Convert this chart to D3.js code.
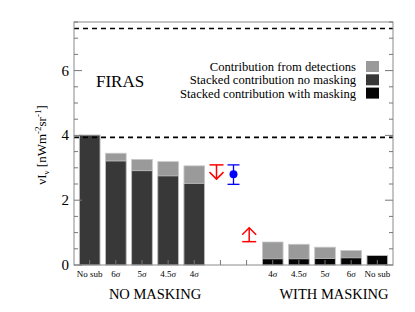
<!DOCTYPE html>
<html>
<head>
<meta charset="utf-8">
<script src="https://cdn.jsdelivr.net/npm/d3@7"></script>
</head>
<body style="margin:0">
<script>
// slot 1..5 = no masking, 8..12 = with masking
const labelsNoMask = ['No sub', '6', '5', '4.5', '4'];
const noMaskTotal = [4.01, 3.45, 3.26, 3.19, 3.06];
const noMaskStack = [4.01, 3.21, 2.91, 2.75, 2.52];

const labelsMask = ['4', '4.5', '5', '6', 'No sub'];
const maskTotal = [0.71, 0.64, 0.55, 0.45, 0.29];
const maskStack = [0.19, 0.19, 0.20, 0.22, 0.29];

const dashedLevels = [7.3, 3.94];
const firas = {x: 6.5, y: 2.8, lo: 2.49, hi: 3.09};
const upperLimit = {x: 5.85, y: 3.09, tip: 2.65};
const lowerLimit = {x: 7.1, y: 0.72, tip: 1.15};

const width = 415;
const height = 312;
const margin = {left: 74, right: 22, top: 22, bottom: 47};
const fontFam = '"Liberation Serif", "Times New Roman", monospace';

// touch the serif font once so it is loaded before the svg text is laid out
const ctx = document.createElement('canvas').getContext('2d');
[9, 12.6, 13, 14.5, 15, 17].forEach((s) => {
    ctx.font = `${s}px ${fontFam}`;
    ctx.measureText('Stacked contribution');
    ctx.font = `italic ${s}px ${fontFam}`;
    ctx.measureText('σν');
});

const svg = d3.select('body').append('svg')
    .attr('width', width)
    .attr('height', height);

const x = d3.scaleLinear()
    .domain([0.4, 12.6])
    .range([margin.left, width - margin.right]);
const y = d3.scaleLinear()
    .domain([0, 7.5])
    .range([height - margin.bottom, margin.top]);

const barW = x(0.79) - x(0);
const lightGrey = '#9a9a9a';
const darkGrey = '#383838';
const black = '#050505';

function addText(parent) {
    return parent.append('text').attr('font-family', fontFam);
}

function drawBars(group, slots, totals, stacks, stackColor) {
    group.selectAll(null)
        .data(totals)
        .enter()
        .append('rect')
        .attr('x', (d, i) => x(slots[i]) - barW / 2)
        .attr('width', barW)
        .attr('y', (d) => y(d))
        .attr('height', (d) => y(0) - y(d))
        .attr('fill', lightGrey)
        .attr('stroke', '#c8c8c8')
        .attr('stroke-width', 0.8);
    group.selectAll(null)
        .data(stacks)
        .enter()
        .append('rect')
        .attr('x', (d, i) => x(slots[i]) - barW / 2)
        .attr('width', barW)
        .attr('y', (d) => y(d))
        .attr('height', (d) => y(0) - y(d))
        .attr('fill', stackColor)
        .attr('stroke', '#c8c8c8')
        .attr('stroke-width', 0.8);
}

const bars = svg.append('g');
drawBars(bars, [1, 2, 3, 4, 5], noMaskTotal, noMaskStack, darkGrey);
drawBars(bars, [8, 9, 10, 11, 12], maskTotal, maskStack, black);

// dashed lines
svg.append('g').selectAll('line')
    .data(dashedLevels)
    .enter()
    .append('line')
    .attr('x1', x(0.4))
    .attr('x2', x(12.6))
    .attr('y1', (d) => y(d))
    .attr('y2', (d) => y(d))
    .attr('stroke', '#000')
    .attr('stroke-width', 1.6)
    .attr('stroke-dasharray', '5,4');

// frame
svg.append('rect')
    .attr('x', x(0.4))
    .attr('y', y(7.5))
    .attr('width', x(12.6) - x(0.4))
    .attr('height', y(0) - y(7.5))
    .attr('fill', 'none')
    .attr('stroke', '#8a8a8a')
    .attr('stroke-width', 1);

// y ticks (inside, both sides)
const majorTicks = d3.range(0, 7.5, 2);
const minorTicks = d3.range(0, 7.51, 0.5).filter((d) => d % 2 !== 0);
const ticks = svg.append('g').attr('stroke', '#777').attr('stroke-width', 1);
[[x(0.4), 1], [x(12.6), -1]].forEach(([x0, dir]) => {
    ticks.selectAll(null).data(majorTicks).enter().append('line')
        .attr('x1', x0).attr('x2', x0 + dir * 8)
        .attr('y1', (d) => y(d)).attr('y2', (d) => y(d));
    ticks.selectAll(null).data(minorTicks).enter().append('line')
        .attr('x1', x0).attr('x2', x0 + dir * 4)
        .attr('y1', (d) => y(d)).attr('y2', (d) => y(d));
});
// x ticks
ticks.selectAll(null).data(d3.range(1, 13)).enter().append('line')
    .attr('x1', (d) => x(d)).attr('x2', (d) => x(d))
    .attr('y1', y(0)).attr('y2', y(0) - 5);

svg.append('g').selectAll('text')
    .data(majorTicks)
    .enter()
    .append('text')
    .attr('font-family', fontFam)
    .attr('x', x(0.4) - 5)
    .attr('y', (d) => y(d) + 5)
    .attr('text-anchor', 'end')
    .attr('font-size', 15)
    .text((d) => d);

// category labels
function catLabels(labels, slots) {
    const t = svg.append('g').selectAll('text')
        .data(labels)
        .enter()
        .append('text')
        .attr('font-family', fontFam)
        .attr('x', (d, i) => x(slots[i]))
        .attr('y', y(0) + 12)
        .attr('text-anchor', 'middle')
        .attr('font-size', 9);
    t.each(function (d) {
        const el = d3.select(this);
        if (d === 'No sub') {
            el.text(d);
        } else {
            el.append('tspan').text(d);
            el.append('tspan').attr('font-style', 'italic').text('σ');
        }
    });
}
catLabels(labelsNoMask, [1, 2, 3, 4, 5]);
catLabels(labelsMask, [8, 9, 10, 11, 12]);

addText(svg)
    .attr('x', 155).attr('y', 299)
    .attr('text-anchor', 'middle').attr('font-size', 14.5)
    .text('NO MASKING');
addText(svg)
    .attr('x', 334).attr('y', 299)
    .attr('text-anchor', 'middle').attr('font-size', 14.5)
    .text('WITH MASKING');

addText(svg)
    .attr('x', 96).attr('y', 87)
    .attr('font-size', 17)
    .text('FIRAS');

// y title
const yTitle = addText(svg)
    .attr('transform', 'translate(46,145) rotate(-90)')
    .attr('text-anchor', 'middle')
    .attr('font-size', 13);
yTitle.append('tspan').text('νI');
yTitle.append('tspan').attr('font-size', 9).attr('dy', 3).text('ν');
yTitle.append('tspan').attr('dy', -3).text(' [nWm');
yTitle.append('tspan').attr('font-size', 9).attr('dy', -5).text('-2');
yTitle.append('tspan').attr('dy', 5).text('sr');
yTitle.append('tspan').attr('font-size', 9).attr('dy', -5).text('-1');
yTitle.append('tspan').attr('dy', 5).text(']');

// legend
const legendItems = ['Contribution from detections', 'Stacked contribution no masking', 'Stacked contribution with masking'];
const legendColors = [lightGrey, darkGrey, black];
const legend = svg.append('g');
legend.selectAll('rect')
    .data(legendItems)
    .enter()
    .append('rect')
    .attr('x', 366)
    .attr('y', (d, i) => 61 + i * 13.3)
    .attr('width', 13)
    .attr('height', 11)
    .attr('fill', (d, i) => legendColors[i]);
legend.selectAll('text')
    .data(legendItems)
    .enter()
    .append('text')
    .attr('font-family', fontFam)
    .attr('x', 356)
    .attr('y', (d, i) => 71 + i * 13.3)
    .attr('text-anchor', 'end')
    .attr('font-size', 12.6)
    .text((d) => d);

// FIRAS point with error bar
const blue = '#0000ff';
const pt = svg.append('g').attr('stroke', blue).attr('stroke-width', 1.3);
pt.append('line').attr('x1', x(firas.x)).attr('x2', x(firas.x)).attr('y1', y(firas.lo)).attr('y2', y(firas.hi));
pt.append('line').attr('x1', x(firas.x) - 6).attr('x2', x(firas.x) + 6).attr('y1', y(firas.lo)).attr('y2', y(firas.lo));
pt.append('line').attr('x1', x(firas.x) - 6).attr('x2', x(firas.x) + 6).attr('y1', y(firas.hi)).attr('y2', y(firas.hi));
svg.append('circle').attr('cx', x(firas.x)).attr('cy', y(firas.y)).attr('r', 4).attr('fill', blue);

// limit arrows
function limitArrow(lim) {
    const g = svg.append('g').attr('stroke', 'red').attr('stroke-width', 1.5).attr('fill', 'none');
    const cx = x(lim.x);
    const dir = lim.tip > lim.y ? 1 : -1; // +1 pointing up
    g.append('line').attr('x1', cx - 7).attr('x2', cx + 7).attr('y1', y(lim.y)).attr('y2', y(lim.y));
    g.append('line').attr('x1', cx).attr('x2', cx).attr('y1', y(lim.y)).attr('y2', y(lim.tip));
    g.append('path')
        .attr('d', `M${cx - 7},${y(lim.tip) + dir * 7}L${cx},${y(lim.tip)}L${cx + 7},${y(lim.tip) + dir * 7}`);
}
limitArrow(upperLimit);
limitArrow(lowerLimit);
</script>
</body>
</html>
